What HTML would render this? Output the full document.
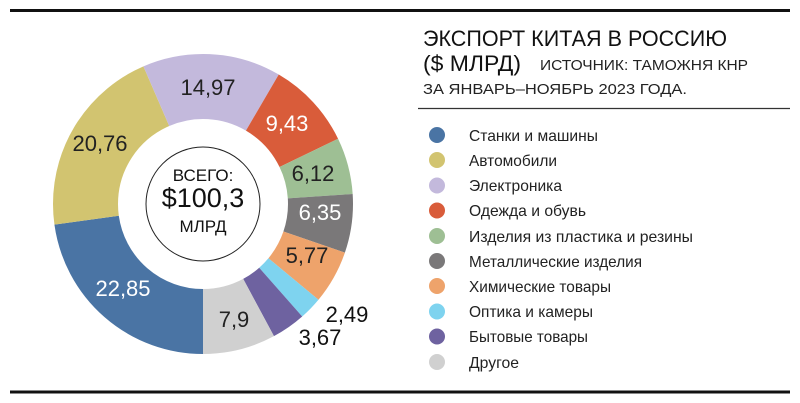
<!DOCTYPE html>
<html><head><meta charset="utf-8"><style>
html,body{margin:0;padding:0;background:#fff}
svg{display:block}
text{font-family:"Liberation Sans","Noto Sans CJK SC",sans-serif}
.n{font-family:"Liberation Sans Narrow","Liberation Sans",sans-serif}
</style></head><body>
<svg width="800" height="403" viewBox="0 0 800 403" xmlns="http://www.w3.org/2000/svg">
<rect width="800" height="403" fill="#fff"/>
<line x1="10" y1="10.5" x2="790" y2="10.5" stroke="#111" stroke-width="3"/>
<line x1="10" y1="392" x2="790" y2="392" stroke="#111" stroke-width="3"/>
<line x1="418" y1="108.5" x2="790" y2="108.5" stroke="#333" stroke-width="1.3"/>

<g transform="rotate(90 203 204)" fill="none" stroke-width="65">
<circle cx="203" cy="204" r="117.5" stroke="#4a74a4" stroke-dasharray="168.2 738.27" stroke-dashoffset="0"/>
<circle cx="203" cy="204" r="117.5" stroke="#d2c470" stroke-dasharray="152.8 738.27" stroke-dashoffset="-168.2"/>
<circle cx="203" cy="204" r="117.5" stroke="#c3b9dc" stroke-dasharray="110.2 738.27" stroke-dashoffset="-321.0"/>
<circle cx="203" cy="204" r="117.5" stroke="#d95c3a" stroke-dasharray="69.4 738.27" stroke-dashoffset="-431.2"/>
<circle cx="203" cy="204" r="117.5" stroke="#9ebf94" stroke-dasharray="45.0 738.27" stroke-dashoffset="-500.6"/>
<circle cx="203" cy="204" r="117.5" stroke="#7a7879" stroke-dasharray="46.7 738.27" stroke-dashoffset="-545.6"/>
<circle cx="203" cy="204" r="117.5" stroke="#eea36b" stroke-dasharray="42.5 738.27" stroke-dashoffset="-592.3"/>
<circle cx="203" cy="204" r="117.5" stroke="#7ed3ef" stroke-dasharray="18.3 738.27" stroke-dashoffset="-634.8"/>
<circle cx="203" cy="204" r="117.5" stroke="#6e62a0" stroke-dasharray="27.0 738.27" stroke-dashoffset="-653.1"/>
<circle cx="203" cy="204" r="117.5" stroke="#d0d0d0" stroke-dasharray="58.1 738.27" stroke-dashoffset="-680.1"/>
</g>
<circle cx="203" cy="204" r="57" fill="#fff" stroke="#222" stroke-width="1"/>
<g text-anchor="middle">
<text x="203" y="181" font-size="17" fill="#111">ВСЕГО:</text>
<text x="203" y="207" font-size="27" fill="#111">$100,3</text>
<text x="203" y="232" font-size="17" fill="#111">МЛРД</text>

<g font-size="22">
<text x="208" y="95" fill="#222">14,97</text>
<text x="287" y="131" fill="#fff">9,43</text>
<text x="100" y="151" fill="#222">20,76</text>
<text x="313" y="181" fill="#222">6,12</text>
<text x="320" y="220" fill="#fff">6,35</text>
<text x="307" y="263" fill="#222">5,77</text>
<text x="123" y="296" fill="#fff">22,85</text>
<text x="234" y="327" fill="#222">7,9</text>
<text x="347" y="322" fill="#111">2,49</text>
<text x="320" y="345" fill="#111">3,67</text>
</g>
</g>

<text x="423" y="46" font-size="22" fill="#111" textLength="304" lengthAdjust="spacingAndGlyphs">ЭКСПОРТ КИТАЯ В РОССИЮ</text>
<text x="423" y="71" font-size="22" fill="#111" textLength="98" lengthAdjust="spacingAndGlyphs">($ МЛРД)</text>
<text x="540" y="70" font-size="15" fill="#222" textLength="208" lengthAdjust="spacingAndGlyphs">ИСТОЧНИК: ТАМОЖНЯ КНР</text>
<text x="423" y="94" font-size="15" fill="#222" textLength="264" lengthAdjust="spacingAndGlyphs">ЗА ЯНВАРЬ–НОЯБРЬ 2023 ГОДА.</text>

<g>
<circle cx="437" cy="135" r="8" fill="#4a74a4"/>
<circle cx="437" cy="160" r="8" fill="#d2c470"/>
<circle cx="437" cy="185.5" r="8" fill="#c3b9dc"/>
<circle cx="437" cy="210.5" r="8" fill="#d95c3a"/>
<circle cx="437" cy="236" r="8" fill="#9ebf94"/>
<circle cx="437" cy="261" r="8" fill="#7a7879"/>
<circle cx="437" cy="286" r="8" fill="#eea36b"/>
<circle cx="437" cy="311.5" r="8" fill="#7ed3ef"/>
<circle cx="437" cy="336.5" r="8" fill="#6e62a0"/>
<circle cx="437" cy="362" r="8" fill="#d0d0d0"/>
</g>
<g font-size="16" fill="#222" class="n">
<text x="469" y="141" textLength="129" lengthAdjust="spacingAndGlyphs">Станки и машины</text>
<text x="469" y="166" textLength="88" lengthAdjust="spacingAndGlyphs">Автомобили</text>
<text x="469" y="191" textLength="93" lengthAdjust="spacingAndGlyphs">Электроника</text>
<text x="469" y="216" textLength="117" lengthAdjust="spacingAndGlyphs">Одежда и обувь</text>
<text x="469" y="242" textLength="224" lengthAdjust="spacingAndGlyphs">Изделия из пластика и резины</text>
<text x="469" y="267" textLength="173" lengthAdjust="spacingAndGlyphs">Металлические изделия</text>
<text x="469" y="292" textLength="142" lengthAdjust="spacingAndGlyphs">Химические товары</text>
<text x="469" y="317" textLength="124" lengthAdjust="spacingAndGlyphs">Оптика и камеры</text>
<text x="469" y="342" textLength="119" lengthAdjust="spacingAndGlyphs">Бытовые товары</text>
<text x="469" y="368" textLength="50" lengthAdjust="spacingAndGlyphs">Другое</text>
</g>
</svg>
</body></html>
